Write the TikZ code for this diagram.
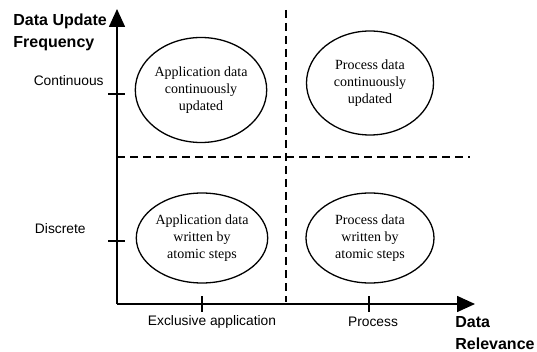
\documentclass[tikz,border=0pt]{standalone}
\usepackage{fontspec}
\setmainfont{Liberation Serif}
\setsansfont{Liberation Sans}
\usepackage{tikz}
\usetikzlibrary{arrows.meta}
\usetikzlibrary{shapes.geometric}
\usetikzlibrary{positioning}

\begin{document}
\begin{tikzpicture}[x=1pt,y=-1pt,thick,>={Triangle[length=18pt,width=16pt]},
			quad node/.style={ellipse,draw,line width=1.3pt,align=center,inner sep=0pt,
				font=\fontsize{14}{16.7}\selectfont},
			axis label/.style={font=\sffamily\fontsize{13.8}{16}\selectfont},
			axis title/.style={font=\sffamily\bfseries\fontsize{16}{22}\selectfont,align=left},
			divider/.style={line width=1.3pt,dash pattern=on 8pt off 5pt}]
			
			\useasboundingbox (0,0) rectangle (537,352);
			
			\coordinate (O) at (117,304);
			\coordinate (Ytop) at (117,9);
			\coordinate (Xend) at (475,304);
			
			\draw[divider] (286,10) -- (286,302);
			\draw[divider] (117,157) -- (470,157);
			
			\draw[->,line width=1.6pt] (O) -- (Ytop);
			\draw[->,line width=1.6pt] (O) -- (Xend);
			
			% ticks
			\draw[line width=1.4pt] (108,94) -- (125,94);
			\draw[line width=1.4pt] (108,241) -- (125,241);
			\draw[line width=1.4pt] (202,296) -- (202,312);
			\draw[line width=1.4pt] (369,296) -- (369,312);
			
			\node[axis title,anchor=west,inner sep=0pt] (ytitle) at (13,32) {Data Update\\Frequency};
			\node[axis title,anchor=west,inner sep=0pt] (xtitle) at (455,333) {Data\\Relevance};
			
			\node[axis label,anchor=east,inner sep=0pt] (cont) at (104,81) {Continuous};
			\node[axis label,anchor=east,inner sep=0pt] (disc) at (86,229) {Discrete};
			\node[axis label] (excl) at (212,322) {Exclusive application};
			\node[axis label] (proc) at (373,322) {Process};
			
			\node[quad node,minimum width=122pt,minimum height=105pt] (A) at (201,90)
				{Application data\\continuously\\updated};
			\node[quad node,minimum width=127pt,minimum height=104pt] (B) at (370,83)
				{Process data\\continuously\\updated};
			\node[quad node,minimum width=127pt,minimum height=90pt] (C) at (202,238)
				{Application data\\written by\\atomic steps};
			\node[quad node,minimum width=128pt,minimum height=90pt] (D) at (370,238)
				{Process data\\written by\\atomic steps};
		\end{tikzpicture}
\end{document}
